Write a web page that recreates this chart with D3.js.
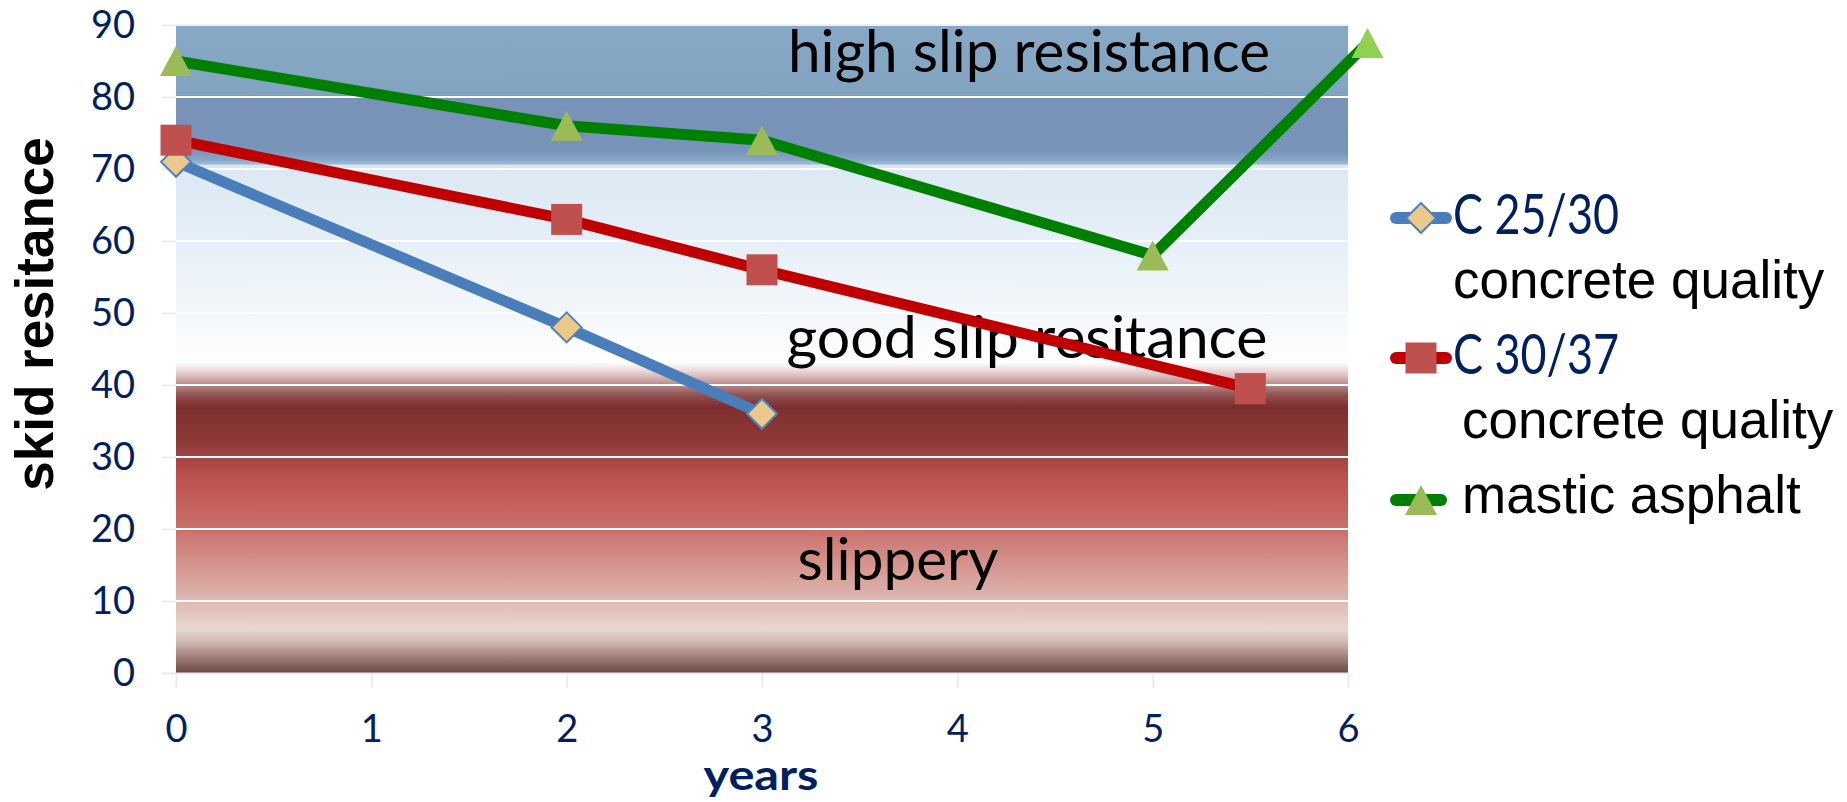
<!DOCTYPE html>
<html lang="en">
<head>
  <meta charset="UTF-8">
  <title>Skid resistance over time</title>
  <style>
    body {
      margin: 0;
      background: #fff;
    }
    .tick text {
      fill: #002060;
      font-family: Lato, "Open Sans", sans-serif;
      font-size: 38px;
    }
    .axis path,
    .axis line {
      stroke: #ececec;
      stroke-width: 2;
    }
    .zone-label {
      font-family: Lato, "Open Sans", sans-serif;
      font-size: 58px;
      fill: #000;
      text-anchor: middle;
    }
  </style>
</head>
<body>
  <div id="chart"></div>

  <script src="https://d3js.org/d3.v7.min.js"></script>
  <script>
    // data
    const c2530Years = [0, 2, 3];
    const c2530Values = [71, 48, 36];
    const c3037Years = [0, 2, 3, 5.5];
    const c3037Values = [74, 63, 56, 39.5];
    const asphaltYears = [0, 2, 3, 5, 6.1];
    const asphaltValues = [85, 76, 74, 58, 87.5];

    const seriesNames = ["C 25/30", "C 30/37", "mastic asphalt"];
    const seriesSubtitles = ["concrete quality", "concrete quality", ""];

    const xTicks = [0, 1, 2, 3, 4, 5, 6];
    const yTicks = [0, 10, 20, 30, 40, 50, 60, 70, 80, 90];

    const zoneNames = ["high slip resistance", "good slip resitance", "slippery"];

    // size and layout
    const width = 1847;
    const height = 802;
    const plot = { left: 176, right: 1348, top: 25, bottom: 673 };

    const x = d3.scaleLinear().domain([0, 6]).range([plot.left, plot.right]);
    const y = d3.scaleLinear().domain([0, 90]).range([plot.bottom, plot.top]);

    const svg = d3.select('#chart')
      .append('svg')
      .attr('width', width)
      .attr('height', height)
      .style('background', 'white');

    // background bands as one vertical gradient (value -> colour)
    const bandStops = [
      [90, '#87a9c5'], [80.3, '#82a4c1'], [80.1, '#7892b8'], [72.5, '#7894b9'],
      [71.3, '#86a6c6'], [70.7, '#9dbbd6'], [70.5, '#dbe8f3'], [60, '#e6eff7'],
      [50, '#f3f7fb'], [43.2, '#ffffff'], [42.6, '#f6eeee'], [41.3, '#dcbfbe'],
      [40, '#b58887'], [38.5, '#8f4f4e'], [37, '#7e2e2e'], [32, '#8f3a39'],
      [27, '#bc524f'], [20, '#ca706b'], [12, '#dbaaa4'], [6, '#e8d7d0'],
      [4.5, '#d4bdb5'], [2, '#9b7b74'], [0, '#6b4741']
    ];
    const grad = svg.append('defs').append('linearGradient')
      .attr('id', 'zones')
      .attr('gradientUnits', 'userSpaceOnUse')
      .attr('x1', 0).attr('x2', 0)
      .attr('y1', y(90)).attr('y2', y(0));
    grad.selectAll('stop')
      .data(bandStops)
      .enter()
      .append('stop')
      .attr('offset', d => (90 - d[0]) / 90)
      .attr('stop-color', d => d[1]);

    svg.append('rect')
      .attr('x', plot.left)
      .attr('y', y(90))
      .attr('width', plot.right - plot.left)
      .attr('height', y(0) - y(90))
      .attr('fill', 'url(#zones)');

    // axes (faint grey lines, navy labels)
    const yAxis = svg.append('g')
      .attr('class', 'axis')
      .attr('transform', 'translate(' + plot.left + ',0)')
      .call(d3.axisLeft(y).tickValues(yTicks).tickSize(14).tickPadding(27).tickSizeOuter(0));
    const xAxis = svg.append('g')
      .attr('class', 'axis')
      .attr('transform', 'translate(0,' + plot.bottom + ')')
      .call(d3.axisBottom(x).tickValues(xTicks).tickFormat(d3.format('d'))
        .tickSize(15).tickPadding(27).tickSizeOuter(0));
    svg.selectAll('.axis').attr('font-size', null).attr('font-family', null);
    yAxis.select('.domain').remove();
    xAxis.select('.domain').attr('d', 'M' + (plot.left - 14) + ',0.5H' + plot.right);

    // white gridlines
    svg.append('g')
      .selectAll('line')
      .data(yTicks.filter(d => d > 0))
      .enter()
      .append('line')
      .attr('x1', plot.left)
      .attr('x2', plot.right)
      .attr('y1', d => y(d))
      .attr('y2', d => y(d))
      .attr('stroke', d => d === 90 ? '#f0f0f0' : '#ffffff')
      .attr('stroke-width', 2);

    // zone labels
    const zoneX = [1029, 1027, 898];
    const zoneY = [72, 358, 580];
    const zoneW = [482, 481, 201];
    svg.append('g')
      .selectAll('text')
      .data(zoneNames)
      .enter()
      .append('text')
      .attr('class', 'zone-label')
      .attr('x', (d, i) => zoneX[i])
      .attr('y', (d, i) => zoneY[i])
      .attr('textLength', (d, i) => zoneW[i])
      .attr('lengthAdjust', 'spacingAndGlyphs')
      .text(d => d);

    // marker shapes, centred on their bounding box
    const markerPath = {
      diamond: 'M0,-15L15,0L0,15L-15,0Z',
      square: 'M-15.5,-15.5H15.5V15.5H-15.5Z',
      triangle: 'M0,-15L16,15L-16,15Z'
    };

    const series = [
      { years: c2530Years, values: c2530Values, line: '#4a7ebb', marker: 'diamond', fill: '#ebc98c', edge: '#4f81bd' },
      { years: c3037Years, values: c3037Values, line: '#c00000', marker: 'square', fill: '#c0504d', edge: 'none' },
      { years: asphaltYears, values: asphaltValues, line: '#008000', marker: 'triangle', fill: '#9bbb59', edge: 'none' }
    ];

    const line = d3.line()
      .x(d => x(d[0]))
      .y(d => y(d[1]));

    series.forEach(function (s, k) {
      const pts = s.years.map((yr, i) => [yr, s.values[i]]);
      svg.append('path')
        .datum(pts)
        .attr('d', line)
        .attr('fill', 'none')
        .attr('stroke', s.line)
        .attr('stroke-width', 11)
        .attr('stroke-linejoin', 'round');

      svg.append('g')
        .selectAll('path')
        .data(pts)
        .enter()
        .append('path')
        .attr('d', markerPath[s.marker])
        .attr('transform', d => 'translate(' + x(d[0]) + ',' + y(d[1]) + ')')
        .attr('fill', (d, i) => (k === 2 && i === pts.length - 1) ? '#92d050' : s.fill)
        .attr('stroke', s.edge)
        .attr('stroke-width', 2);
    });

    // legend
    const legY = [218, 358, 500];
    const legend = svg.append('g');
    series.forEach(function (s, i) {
      legend.append('line')
        .attr('x1', 1396)
        .attr('x2', i === 2 ? 1441 : 1446)
        .attr('y1', legY[i])
        .attr('y2', legY[i])
        .attr('stroke', s.line)
        .attr('stroke-width', 12)
        .attr('stroke-linecap', 'round');
      legend.append('path')
        .attr('d', markerPath[s.marker])
        .attr('transform', 'translate(1421,' + legY[i] + ')')
        .attr('fill', s.fill)
        .attr('stroke', s.edge)
        .attr('stroke-width', 2);
    });

    // first two names in navy, wrapped subtitle below
    legend.selectAll('.legname')
      .data(seriesNames.slice(0, 2))
      .enter()
      .append('text')
      .attr('x', 1453)
      .attr('y', (d, i) => [234, 374][i])
      .attr('textLength', 166)
      .attr('lengthAdjust', 'spacingAndGlyphs')
      .style('font-family', 'Lato, "Open Sans", sans-serif')
      .style('font-size', '56px')
      .style('fill', '#002060')
      .text(d => d);

    legend.selectAll('.legsub')
      .data([seriesSubtitles[0], seriesSubtitles[1], seriesNames[2]])
      .enter()
      .append('text')
      .attr('x', (d, i) => [1453, 1462, 1462][i])
      .attr('y', (d, i) => [298, 438, 513][i])
      .style('font-family', '"Liberation Sans", Arial, sans-serif')
      .style('font-size', '53px')
      .style('fill', '#000')
      .text(d => d);

    // axis titles
    svg.append('text')
      .attr('transform', 'translate(53,314) rotate(-90)')
      .attr('text-anchor', 'middle')
      .style('font-family', '"Liberation Sans", Arial, sans-serif')
      .style('font-weight', 'bold')
      .style('font-size', '53px')
      .text('skid resitance');

    svg.append('text')
      .attr('x', 761)
      .attr('y', 790)
      .attr('text-anchor', 'middle')
      .attr('textLength', 115)
      .attr('lengthAdjust', 'spacingAndGlyphs')
      .style('font-family', 'Lato, "Open Sans", sans-serif')
      .style('font-weight', 'bold')
      .style('font-size', '42px')
      .style('fill', '#002060')
      .text('years');
  </script>
</body>
</html>
